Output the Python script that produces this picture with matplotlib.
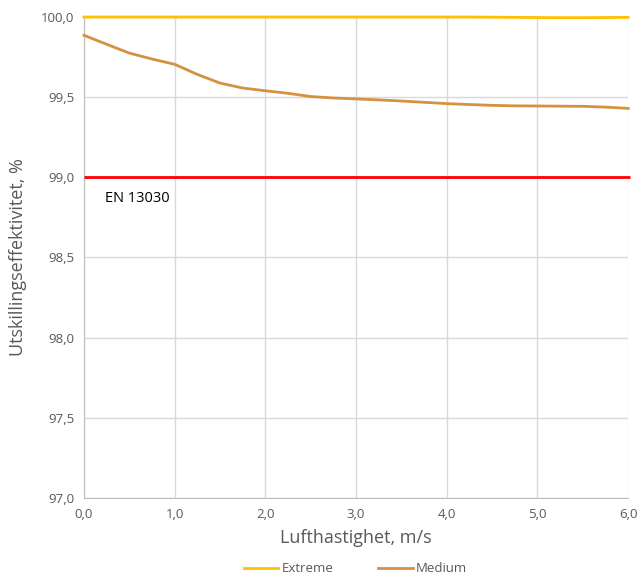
import matplotlib.pyplot as plt

# ---- Data
x_speed = [0.0, 0.25, 0.5, 0.75, 1.0, 1.25, 1.5, 1.75, 2.0, 2.25, 2.5, 2.75,
           3.0, 3.25, 3.5, 3.75, 4.0, 4.25, 4.5, 4.75, 5.0, 5.25, 5.5, 5.75,
           6.0]
extreme = [100.0, 100.0, 100.0, 100.0, 100.0, 100.0, 100.0, 100.0, 100.0,
           100.0, 100.0, 100.0, 100.0, 100.0, 100.0, 100.0, 100.0, 100.0,
           99.999, 99.998, 99.997, 99.996, 99.996, 99.997, 99.998]
medium = [99.886, 99.83, 99.775, 99.738, 99.705, 99.642, 99.588, 99.557,
          99.54, 99.524, 99.504, 99.495, 99.489, 99.483, 99.476, 99.468,
          99.46, 99.454, 99.449, 99.446, 99.445, 99.444, 99.443, 99.438,
          99.43]
en_limit = 99.0
x_ticks = [0, 1, 2, 3, 4, 5, 6]
y_ticks = [97.0, 97.5, 98.0, 98.5, 99.0, 99.5, 100.0]

plt.rcParams['font.family'] = ['Open Sans', 'DejaVu Sans']
gray = '#595959'
grid_color = '#d9d9d9'

fig = plt.figure(figsize=(6.41, 5.79), dpi=100)
ax = fig.add_axes([0.131, 0.140, 0.849, 0.8306])

ax.plot([0, 6.02], [en_limit, en_limit], color='#ff0000', lw=2, zorder=3,
        solid_capstyle='butt', clip_on=False)
l1, = ax.plot(x_speed, extreme, color='#ffc000', lw=2, zorder=4,
              label='Extreme', clip_on=False)
l2, = ax.plot(x_speed, medium, color='#d4913f', lw=2, zorder=4,
              label='Medium', clip_on=False)

ax.text(0.23, 98.87, 'EN 13030', fontsize=10.5, color='black',
        ha='left', va='center')

ax.set_xlim(0, 6)
ax.set_ylim(97, 100)
ax.set_xticks(x_ticks)
ax.set_yticks(y_ticks)
ax.set_xticklabels(['{:.1f}'.format(v).replace('.', ',') for v in x_ticks])
ax.set_yticklabels(['{:.1f}'.format(v).replace('.', ',') for v in y_ticks])
ax.tick_params(axis='both', length=0, labelsize=9.5, labelcolor=gray, pad=7)

ax.grid(True, color=grid_color, lw=1)
ax.set_axisbelow(True)
for side in ['top', 'right']:
    ax.spines[side].set_visible(False)
for side in ['left', 'bottom']:
    ax.spines[side].set_color('#bfbfbf')

ax.set_xlabel('Lufthastighet, m/s', fontsize=13, color=gray, labelpad=6)
ax.set_ylabel('Utskillingseffektivitet, %', fontsize=13, color=gray,
              labelpad=10)

fig.legend(handles=[l1, l2], loc='lower center', ncol=2, frameon=False,
           fontsize=9.5, labelcolor=gray, bbox_to_anchor=(0.555, -0.014),
           handlelength=2.6, columnspacing=3.4, handletextpad=0.25)

fig.savefig('out.png', dpi=100)
